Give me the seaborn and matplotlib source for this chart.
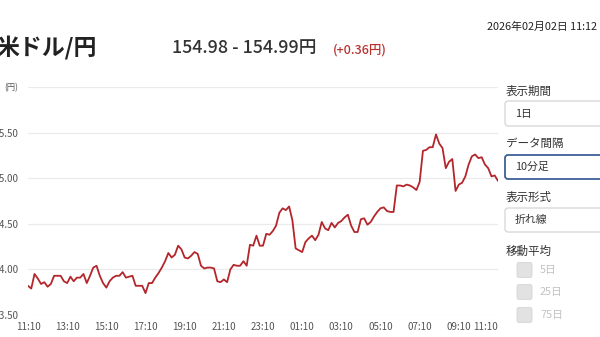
import numpy as np
import pandas as pd
import seaborn as sns
import matplotlib
matplotlib.use("Agg")
import matplotlib.pyplot as plt
from matplotlib.patches import FancyBboxPatch

sns.set_theme(style="white")
plt.rcParams['font.family'] = ['Noto Sans CJK JP', 'DejaVu Sans']

# ---- data ----
title = "米ドル/円"
price_text = "154.98 - 154.99円"
change_text = "(+0.36円)"
timestamp = "2026年02月02日 11:12"
x_tick_labels = ["11:10", "13:10", "15:10", "17:10", "19:10", "21:10", "23:10",
                 "01:10", "03:10", "05:10", "07:10", "09:10", "11:10"]
y_ticks = [153.5, 154.0, 154.5, 155.0, 155.5, 156.0]
y_unit = "(円)"
rates = [
    153.82, 153.79, 153.95, 153.90, 153.84, 153.86, 153.81, 153.84, 153.93, 153.93,
    153.93, 153.87, 153.85, 153.92, 153.87, 153.91, 153.91, 153.95, 153.85, 153.93,
    154.02, 154.04, 153.93, 153.85, 153.80, 153.87, 153.91, 153.93, 153.93, 153.97,
    153.91, 153.92, 153.93, 153.82, 153.82, 153.82, 153.74, 153.85, 153.85, 153.91,
    153.96, 154.02, 154.09, 154.18, 154.13, 154.16, 154.26, 154.22, 154.13, 154.12,
    154.15, 154.19, 154.17, 154.04, 154.01, 154.02, 154.02, 154.01, 153.87, 153.86,
    153.89, 153.86, 154.00, 154.05, 154.04, 154.04, 154.09, 154.04, 154.27, 154.26,
    154.37, 154.26, 154.26, 154.39, 154.38, 154.42, 154.48, 154.62, 154.67, 154.65,
    154.69, 154.54, 154.23, 154.21, 154.19, 154.30, 154.34, 154.37, 154.32, 154.38,
    154.52, 154.45, 154.43, 154.51, 154.46, 154.51, 154.53, 154.57, 154.60, 154.48,
    154.41, 154.41, 154.55, 154.56, 154.49, 154.52, 154.58, 154.63, 154.67, 154.68,
    154.64, 154.63, 154.63, 154.92, 154.92, 154.91, 154.93, 154.92, 154.90, 154.87,
    154.96, 155.30, 155.31, 155.34, 155.34, 155.48, 155.38, 155.33, 155.11, 155.18,
    155.21, 154.86, 154.93, 154.95, 155.02, 155.15, 155.24, 155.26, 155.22, 155.23,
    155.15, 155.11, 155.02, 155.03, 154.97,
]
panel_labels = ["表示期間", "データ間隔", "表示形式", "移動平均"]
panel_values = ["1日", "10分足", "折れ線"]
ma_options = ["5日", "25日", "75日"]

W, H = 600, 337
fig = plt.figure(figsize=(W / 100, H / 100), dpi=100)
fig.patch.set_facecolor("white")

# main chart axes (pixel box: x 28..498, y 87..315)
ax = fig.add_axes([28 / W, (H - 315) / H, (498 - 28) / W, (315 - 87) / H])
df = pd.DataFrame({"idx": np.arange(len(rates)), "rate": rates})
sns.lineplot(data=df, x="idx", y="rate", ax=ax, color="#b3262b", linewidth=1.3)
ax.set_xlim(0, len(rates) - 1)
ax.set_ylim(y_ticks[0], y_ticks[-1])
ax.set_xlabel("")
ax.set_ylabel("")
for s in ax.spines.values():
    s.set_visible(False)
ax.set_yticks(y_ticks)
ax.set_yticklabels([f"{v:.2f}" for v in y_ticks[:-1]] + [y_unit])
ax.yaxis.grid(True, color="#ebebeb", linewidth=0.9)
ax.xaxis.grid(False)
ax.tick_params(axis="y", length=0, pad=7, labelsize=7, labelcolor="#555555")
xt = np.arange(0, len(rates), 12)
ax.set_xticks(xt)
ax.set_xticklabels(x_tick_labels)
ax.tick_params(axis="x", length=0, pad=5, labelsize=7, labelcolor="#555555")
ax.get_xticklabels()[-1].set_horizontalalignment("right")
ax.get_xticklabels()[-1].set_x(xt[-1] + 0.5)
ax.get_yticklabels()[-1].set_fontsize(6)

# overlay axes in pixel coordinates for header and side panel
ov = fig.add_axes([0, 0, 1, 1], facecolor="none")
ov.set_xlim(0, W)
ov.set_ylim(H, 0)
ov.axis("off")

ov.text(-4, 48, title, fontsize=16.5, fontweight="bold", color="#222222", va="center", ha="left")
ov.text(172, 48, price_text, fontsize=12.8, fontweight="medium", color="#333333", va="center", ha="left")
ov.text(333, 50, change_text, fontsize=9, fontweight="medium", color="#b8312f", va="center", ha="left")
ov.text(487, 27, timestamp, fontsize=7.8, color="#222222", va="center", ha="left")

label_y = [91, 143, 197, 251]
box_y = [(101, 126), (155, 179), (208, 232)]
for lab, yy in zip(panel_labels, label_y):
    ov.text(506, yy, lab, fontsize=8.3, color="#333333", va="center", ha="left")
for k, ((y0, y1), val) in enumerate(zip(box_y, panel_values)):
    ec = "#3e5f96" if k == 1 else "#d0d0d0"
    lw = 1.3 if k == 1 else 0.8
    ov.add_patch(FancyBboxPatch((505, y0), 120, y1 - y0,
                                boxstyle="round,pad=0,rounding_size=3",
                                fc="white", ec=ec, lw=lw))
    ov.text(515, (y0 + y1) / 2, val, fontsize=7.8, color="#333333", va="center", ha="left")
for yc, opt in zip([270, 292, 315], ma_options):
    ov.add_patch(FancyBboxPatch((517, yc - 7.5), 15, 15,
                                boxstyle="round,pad=0,rounding_size=2",
                                fc="#e2e2e2", ec="#d5d5d5", lw=0.6))
    ov.text(540, yc, opt, fontsize=7.8, color="#c2c2c2", va="center", ha="left")

fig.savefig("out.png", dpi=100, facecolor="white")
